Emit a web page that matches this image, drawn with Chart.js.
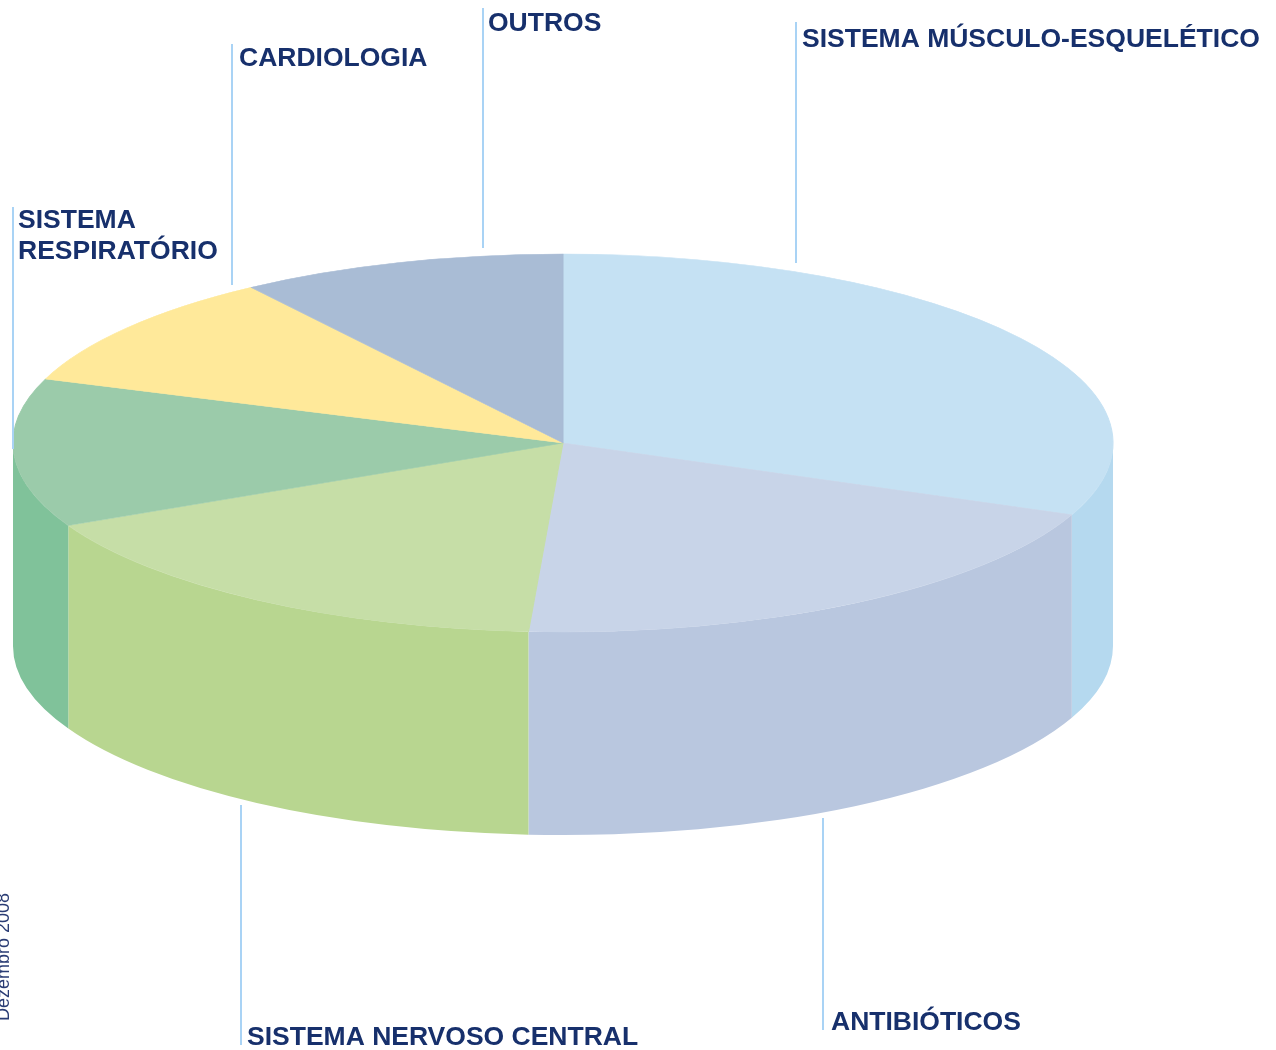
<!DOCTYPE html>
<html>
<head>
<meta charset="utf-8">
<style>
  html, body { margin: 0; padding: 0; background: #fff; overflow: hidden; }
  canvas { display: block; }
</style>
<script src="https://cdn.jsdelivr.net/npm/chart.js@4.4.1/dist/chart.umd.min.js"></script>
</head>
<body>
<canvas id="grafico" width="1276" height="1050"></canvas>
<script>
// dados (% estimadas a partir da imagem)
const categories = [
  "SISTEMA MÚSCULO-ESQUELÉTICO",
  "ANTIBIÓTICOS",
  "SISTEMA NERVOSO CENTRAL",
  ["SISTEMA", "RESPIRATÓRIO"],
  "CARDIOLOGIA",
  "OUTROS",
];
const shares = [31.2, 19.8, 16.8, 12.7, 9.9, 9.6];
const topColors = ["#C5E1F3", "#C8D4E8", "#C6DEA7", "#9BCBAA", "#FFE99A", "#A9BCD5"];
const sideColors = ["#B5D9EF", "#B9C7DF", "#B8D690", "#80C29A", "#F5DC80", "#97ABC8"];

// posição das etiquetas e linhas de chamada
const labelLayout = [
  { x: 802, y: 47, lx: 796, y1: 22, y2: 263 },
  { x: 831, y: 1030, lx: 823, y1: 818, y2: 1030 },
  { x: 247, y: 1045, lx: 241, y1: 805, y2: 1045 },
  { x: 18, y: 228, lx: 13, y1: 207, y2: 449 },
  { x: 239, y: 66, lx: 232, y1: 44, y2: 285 },
  { x: 488, y: 31, lx: 483, y1: 8, y2: 248 },
];

const CX = 563, CY = 443, RX = 550, RY = 189, DEPTH = 203;

// achata o contexto para o pie parecer em perspectiva
function squash(chart) {
  const arc = chart.getDatasetMeta(0).data[0];
  const r = arc.outerRadius;
  const ctx = chart.ctx;
  ctx.translate(CX, CY);
  ctx.scale(RX / r, RY / r);
  ctx.translate(-arc.x, -arc.y);
  return r * DEPTH / RY;
}

const pie3d = {
  id: "pie3d",
  beforeDatasetsDraw(chart) {
    const ctx = chart.ctx;
    ctx.save();
    const d = squash(chart);
    chart.getDatasetMeta(0).data.forEach((arc, i) => {
      const s = Math.max(arc.startAngle, 0);
      const e = Math.min(arc.endAngle, Math.PI);
      if (e <= s) return;
      ctx.beginPath();
      ctx.arc(arc.x, arc.y, arc.outerRadius, s, e);
      ctx.arc(arc.x, arc.y + d, arc.outerRadius, e, s, true);
      ctx.closePath();
      ctx.fillStyle = sideColors[i];
      ctx.fill();
    });
  },
  afterDatasetsDraw(chart) {
    chart.ctx.restore();
  },
  afterDraw(chart) {
    const ctx = chart.ctx;
    ctx.save();
    ctx.strokeStyle = "#A9D3F5";
    ctx.lineWidth = 2;
    labelLayout.forEach((p) => {
      ctx.beginPath();
      ctx.moveTo(p.lx, p.y1);
      ctx.lineTo(p.lx, p.y2);
      ctx.stroke();
    });
    ctx.fillStyle = "#17306C";
    ctx.font = 'bold 26.5px "Liberation Sans", Arial, sans-serif';
    ctx.textBaseline = "alphabetic";
    categories.forEach((label, i) => {
      const lines = Array.isArray(label) ? label : [label];
      lines.forEach((t, k) => ctx.fillText(t, labelLayout[i].x, labelLayout[i].y + k * 31));
    });
    // data na margem, rodada (cortada pela borda)
    ctx.translate(9, 1021);
    ctx.rotate(-Math.PI / 2);
    ctx.fillStyle = "#2A3C74";
    ctx.font = '18px "Liberation Sans", Arial, sans-serif';
    ctx.fillText("Dezembro 2008", 0, 0);
    ctx.restore();
  },
};

new Chart(document.getElementById("grafico"), {
  type: "pie",
  data: {
    labels: categories,
    datasets: [{
      data: shares,
      backgroundColor: topColors,
      borderColor: topColors,
      borderWidth: 1,
      clip: false,
    }],
  },
  options: {
    responsive: false,
    animation: false,
    events: [],
    plugins: { legend: { display: false }, tooltip: { enabled: false } },
  },
  plugins: [pie3d],
});
</script>
</body>
</html>
